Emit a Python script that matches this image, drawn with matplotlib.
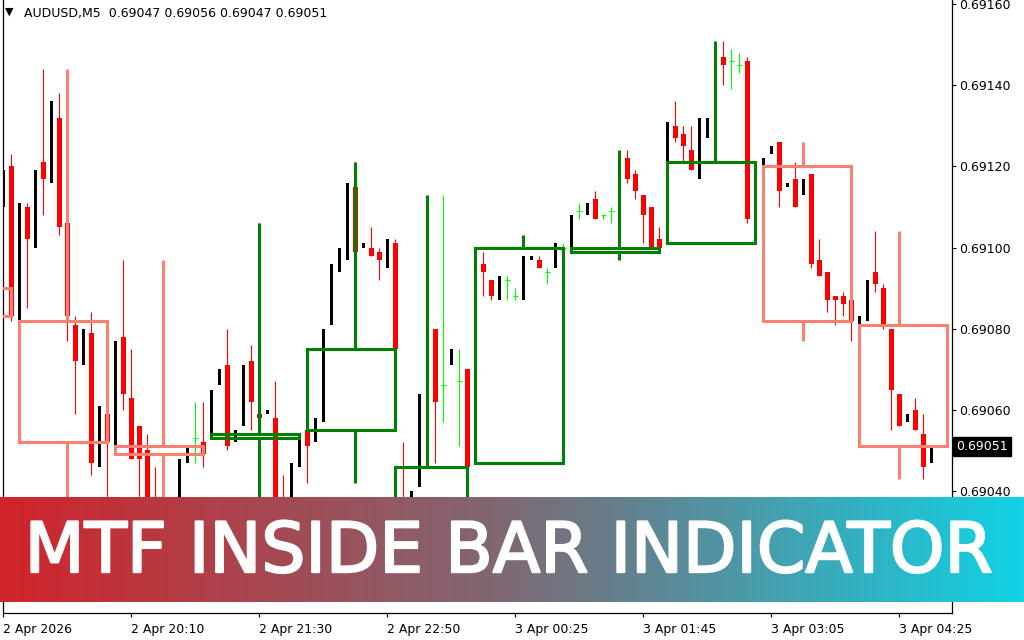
import numpy as np
import matplotlib
matplotlib.use("Agg")
import matplotlib.pyplot as plt
from matplotlib.patches import Rectangle
from matplotlib.colors import LinearSegmentedColormap
import matplotlib.transforms as mtransforms
import matplotlib.patheffects as pe

# ---------------- data ----------------
symbol = "AUDUSD,M5"
last_ohlc = ["0.69047", "0.69056", "0.69047", "0.69051"]
last_price = 0.69051

opens = [0.69110, 0.69120, 0.69082, 0.69110, 0.69100, 0.69121, 0.69116, 0.69132, 0.69106, 0.69081,
         0.69071, 0.69079, 0.69046, 0.69059, 0.69051, 0.69078, 0.69063, 0.69056, 0.69050, 0.69038,
         0.69033, 0.69030, 0.69035, 0.69047, 0.69053, 0.69052, 0.69053, 0.69066, 0.69071, 0.69052,
         0.69056, 0.69072, 0.69059, 0.69059, 0.69058, 0.69037, 0.69035, 0.69046, 0.69055, 0.69052,
         0.69057, 0.69081, 0.69094, 0.69097, 0.69115, 0.69100, 0.69100, 0.69099, 0.69095, 0.69101,
         0.69038, 0.69033, 0.69041, 0.69064, 0.69080, 0.69066, 0.69071, 0.69067, 0.69070, 0.69047,
         0.69096, 0.69092, 0.69087, 0.69092, 0.69088, 0.69087, 0.69097, 0.69097, 0.69094, 0.69095,
         0.69100, 0.69100, 0.69109, 0.69108, 0.69112, 0.69108, 0.69109, 0.69109, 0.69122, 0.69118,
         0.69113, 0.69110, 0.69102, 0.69101, 0.69130, 0.69128, 0.69124, 0.69117, 0.69127, 0.69132,
         0.69147, 0.69146, 0.69145, 0.69146, 0.69107, 0.69120, 0.69123, 0.69126, 0.69115, 0.69117,
         0.69113, 0.69118, 0.69097, 0.69094, 0.69088, 0.69088, 0.69087, 0.69081, 0.69082, 0.69094,
         0.69090, 0.69080, 0.69064, 0.69057, 0.69060, 0.69054, 0.69047]
highs = [0.69119, 0.69123, 0.69111, 0.69111, 0.69119, 0.69144, 0.69136, 0.69138, 0.69106, 0.69083,
         0.69080, 0.69084, 0.69061, 0.69059, 0.69077, 0.69097, 0.69075, 0.69056, 0.69054, 0.69046,
         0.69035, 0.69037, 0.69048, 0.69051, 0.69062, 0.69062, 0.69065, 0.69070, 0.69080, 0.69055,
         0.69071, 0.69076, 0.69106, 0.69060, 0.69067, 0.69044, 0.69047, 0.69054, 0.69055, 0.69058,
         0.69080, 0.69096, 0.69100, 0.69116, 0.69121, 0.69101, 0.69105, 0.69100, 0.69102, 0.69102,
         0.69052, 0.69040, 0.69064, 0.69080, 0.69080, 0.69113, 0.69075, 0.69075, 0.69070, 0.69096,
         0.69099, 0.69092, 0.69093, 0.69093, 0.69090, 0.69103, 0.69098, 0.69098, 0.69095, 0.69101,
         0.69101, 0.69108, 0.69111, 0.69111, 0.69114, 0.69108, 0.69110, 0.69124, 0.69124, 0.69119,
         0.69113, 0.69110, 0.69105, 0.69131, 0.69136, 0.69130, 0.69130, 0.69132, 0.69132, 0.69151,
         0.69151, 0.69149, 0.69148, 0.69147, 0.69121, 0.69122, 0.69125, 0.69126, 0.69116, 0.69121,
         0.69117, 0.69118, 0.69102, 0.69094, 0.69088, 0.69089, 0.69087, 0.69083, 0.69092, 0.69104,
         0.69091, 0.69080, 0.69064, 0.69059, 0.69063, 0.69059, 0.69056]
lows = [0.69110, 0.69082, 0.69082, 0.69085, 0.69100, 0.69108, 0.69116, 0.69103, 0.69077, 0.69059,
        0.69071, 0.69044, 0.69046, 0.69037, 0.69051, 0.69060, 0.69048, 0.69034, 0.69032, 0.69030,
        0.69028, 0.69030, 0.69035, 0.69047, 0.69047, 0.69046, 0.69053, 0.69066, 0.69050, 0.69052,
        0.69056, 0.69055, 0.69056, 0.69059, 0.69033, 0.69032, 0.69035, 0.69046, 0.69042, 0.69052,
        0.69057, 0.69081, 0.69094, 0.69097, 0.69099, 0.69100, 0.69098, 0.69092, 0.69095, 0.69075,
        0.69032, 0.69033, 0.69041, 0.69064, 0.69047, 0.69057, 0.69071, 0.69051, 0.69046, 0.69047,
        0.69088, 0.69087, 0.69087, 0.69087, 0.69087, 0.69087, 0.69097, 0.69095, 0.69091, 0.69095,
        0.69099, 0.69100, 0.69107, 0.69108, 0.69107, 0.69107, 0.69106, 0.69097, 0.69116, 0.69112,
        0.69101, 0.69100, 0.69100, 0.69101, 0.69126, 0.69121, 0.69119, 0.69117, 0.69127, 0.69132,
        0.69140, 0.69139, 0.69143, 0.69106, 0.69107, 0.69120, 0.69123, 0.69110, 0.69115, 0.69110,
        0.69113, 0.69095, 0.69093, 0.69084, 0.69081, 0.69083, 0.69077, 0.69081, 0.69082, 0.69089,
        0.69080, 0.69055, 0.69056, 0.69057, 0.69055, 0.69043, 0.69047]
closes = [0.69119, 0.69083, 0.69111, 0.69102, 0.69119, 0.69117, 0.69136, 0.69105, 0.69083, 0.69072,
          0.69080, 0.69047, 0.69061, 0.69052, 0.69077, 0.69064, 0.69048, 0.69048, 0.69034, 0.69033,
          0.69030, 0.69037, 0.69048, 0.69051, 0.69053, 0.69049, 0.69065, 0.69070, 0.69051, 0.69055,
          0.69071, 0.69062, 0.69058, 0.69060, 0.69035, 0.69034, 0.69047, 0.69054, 0.69051, 0.69058,
          0.69080, 0.69096, 0.69100, 0.69116, 0.69099, 0.69101, 0.69098, 0.69097, 0.69102, 0.69075,
          0.69034, 0.69040, 0.69064, 0.69080, 0.69062, 0.69066, 0.69075, 0.69067, 0.69046, 0.69096,
          0.69094, 0.69088, 0.69093, 0.69092, 0.69088, 0.69098, 0.69098, 0.69095, 0.69094, 0.69101,
          0.69100, 0.69108, 0.69109, 0.69111, 0.69107, 0.69108, 0.69109, 0.69122, 0.69117, 0.69114,
          0.69108, 0.69100, 0.69100, 0.69131, 0.69127, 0.69125, 0.69119, 0.69132, 0.69132, 0.69147,
          0.69145, 0.69146, 0.69145, 0.69107, 0.69121, 0.69122, 0.69125, 0.69114, 0.69116, 0.69110,
          0.69117, 0.69096, 0.69093, 0.69087, 0.69087, 0.69086, 0.69082, 0.69083, 0.69092, 0.69091,
          0.69081, 0.69065, 0.69056, 0.69059, 0.69055, 0.69046, 0.69051]

# higher-timeframe (H1) inside-bar boxes, in M5 bar indices
htf_start = [-10, 2, 14, 26, 38, 49, 59, 71, 83, 95, 107]
htf_end = [1, 13, 25, 37, 49, 58, 70, 82, 94, 106, 118]
htf_mid = [-4, 8, 20, 32, 44, 53, 65, 77, 89, 100, 112]
htf_open = [0.69090, 0.69082, 0.69051, 0.69053, 0.69055, 0.69038, 0.69047, 0.69099, 0.69101, 0.69120, 0.69081]
htf_high = [0.69095, 0.69144, 0.69097, 0.69106, 0.69121, 0.69113, 0.69103, 0.69124, 0.69151, 0.69126, 0.69104]
htf_low = [0.69080, 0.69037, 0.69028, 0.69032, 0.69042, 0.69032, 0.69047, 0.69097, 0.69101, 0.69077, 0.69043]
htf_close = [0.69083, 0.69052, 0.69049, 0.69054, 0.69075, 0.69046, 0.69100, 0.69100, 0.69121, 0.69082, 0.69051]

x_tick_pos = [0, 16, 32, 48, 64, 80, 96, 112]
x_tick_labels = ["2 Apr 2026", "2 Apr 20:10", "2 Apr 21:30", "2 Apr 22:50",
                 "3 Apr 00:25", "3 Apr 01:45", "3 Apr 03:05", "3 Apr 04:25"]
y_ticks = [0.69040, 0.69060, 0.69080, 0.69100, 0.69120, 0.69140, 0.69160]

banner_text = "MTF INSIDE BAR INDICATOR"

# ---------------- figure ----------------
W, H = 1024, 640
fig = plt.figure(figsize=(W / 100, H / 100), dpi=100)
fig.patch.set_facecolor("white")
ax = fig.add_axes([2.7 / W, 27 / H, 949.3 / W, 613 / H])
ax.set_facecolor("white")
ax.set_xlim(-0.075, 118.59)
ax.set_ylim(0.69009938, 0.69160986)

o = np.array(opens); h = np.array(highs); l = np.array(lows); c = np.array(closes)
x = np.arange(len(o))
up = c > o + 1e-9
dn = c < o - 1e-9
dj = ~up & ~dn

px = 1.0 / 8.0  # one pixel in bar units
ax.vlines(x[dn], l[dn], h[dn], color="#ff0000", lw=0.8, zorder=2)
ax.bar(x[dn], (o - c)[dn], bottom=c[dn], width=5 * px, color="#ff0000", linewidth=0, zorder=3)
ax.bar(x[up], (c - o)[up], bottom=o[up], width=3 * px, color="black", linewidth=0, zorder=3)
ax.vlines(x[dj], l[dj], h[dj], color="#00ff00", lw=0.8, zorder=3)
ax.hlines(c[dj], x[dj] - 2.5 * px, x[dj] + 2.5 * px, color="#00ff00", lw=0.8, zorder=3)

for s, e, m, bo, bh, bl, bc in zip(htf_start, htf_end, htf_mid, htf_open, htf_high, htf_low, htf_close):
    col = "#008000" if bc > bo else "#fa8072"
    top, bot = max(bo, bc), min(bo, bc)
    ax.add_patch(Rectangle((s, bot), e - s, top - bot, fill=False, edgecolor=col,
                           lw=2.2, zorder=5, joinstyle="miter"))
    if bh > top:
        ax.vlines(m, top, bh, color=col, lw=2.2, zorder=5)
    if bl < bot:
        ax.vlines(m, bl, bot, color=col, lw=2.2, zorder=5)

# axes styling
for side in ["left", "right", "bottom"]:
    ax.spines[side].set_linewidth(0.9)
    ax.spines[side].set_color("black")
ax.spines["top"].set_visible(False)

ax.yaxis.tick_right()
ax.set_yticks(y_ticks)
ax.set_yticklabels([f"{v:.5f}" for v in y_ticks])
ax.tick_params(axis="y", direction="out", length=3, width=0.8, labelsize=9, pad=2, colors="black")
ax.set_xticks(x_tick_pos)
ax.set_xticklabels(x_tick_labels)
ax.tick_params(axis="x", direction="out", length=3, width=0.8, labelsize=9, pad=4)
for lab in ax.get_xticklabels():
    lab.set_horizontalalignment("left")

# current price label
trans = mtransforms.blended_transform_factory(ax.transAxes, ax.transData)
ax.text(1.0 + 4 / 949.3, last_price, f"{last_price:.5f}", transform=trans, ha="left", va="center",
        fontsize=9, color="white", zorder=10, clip_on=False,
        bbox=dict(boxstyle="square,pad=0.25", fc="black", ec="black"))

# header
fig.text(5 / W, 1 - 12 / H, "\u25BC", fontsize=8, va="center", ha="left", color="black")
fig.text(24 / W, 1 - 14 / H, f"{symbol}  " + " ".join(last_ohlc), fontsize=9, va="center",
         ha="left", color="black")

# banner overlay
bax = fig.add_axes([0, 38 / H, 1, 105 / H], zorder=20)
grad = np.linspace(0, 1, 512)[None, :]
cmap = LinearSegmentedColormap.from_list("banner", ["#d2232a", "#7d6a76", "#10d2e4"])
bax.imshow(grad, aspect="auto", cmap=cmap, extent=[0, 1, 0, 1])
bax.set_xlim(0, 1); bax.set_ylim(0, 1)
bax.axis("off")
t = bax.text(0.496, 0.285, banner_text, color="white", ha="center", va="baseline",
             fontsize=50, family="DejaVu Sans", weight="normal",
             path_effects=[pe.withStroke(linewidth=1.6, foreground="white")])
fig.canvas.draw()
bb = t.get_window_extent()
t.set_fontsize(50 * 970 / bb.width)

fig.savefig("out.png", dpi=100)
